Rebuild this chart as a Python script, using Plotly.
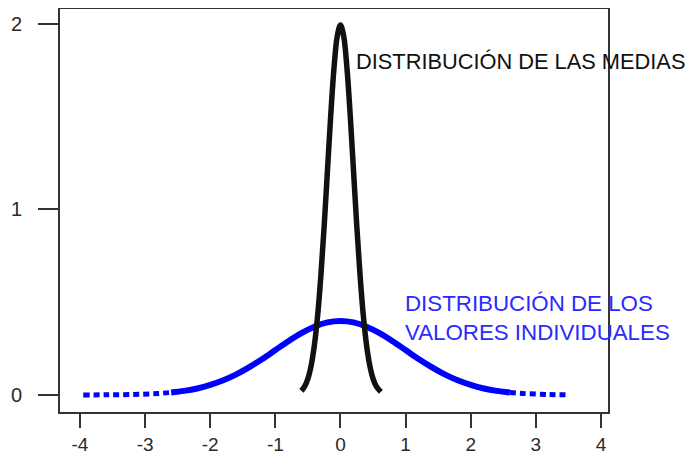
import plotly.graph_objects as go

# Distribution of the means
medias_x = [-0.60, -0.55, -0.50, -0.45, -0.40, -0.35, -0.30, -0.25, -0.20, -0.15, -0.10, -0.05,
            0.00, 0.05, 0.10, 0.15, 0.20, 0.25, 0.30, 0.35, 0.40, 0.45, 0.50, 0.55, 0.62]
medias_y = [0.022, 0.046, 0.088, 0.159, 0.270, 0.431, 0.648, 0.913, 1.210, 1.506, 1.760, 1.933,
            1.995, 1.933, 1.760, 1.506, 1.210, 0.913, 0.648, 0.431, 0.270, 0.159, 0.088, 0.046, 0.016]

# Distribution of individual values: central (solid) part
ind_x = [-2.6, -2.4, -2.2, -2.0, -1.8, -1.6, -1.4, -1.2, -1.0, -0.8, -0.6, -0.4, -0.2, 0.0,
         0.2, 0.4, 0.6, 0.8, 1.0, 1.2, 1.4, 1.6, 1.8, 2.0, 2.2, 2.4, 2.6]
ind_y = [0.0136, 0.022, 0.035, 0.054, 0.079, 0.111, 0.150, 0.194, 0.242, 0.290, 0.333, 0.368, 0.391, 0.399,
         0.391, 0.368, 0.333, 0.290, 0.242, 0.194, 0.150, 0.111, 0.079, 0.054, 0.035, 0.022, 0.0136]
# tails (sparse, dashed-looking)
tail_left_x = [-3.95, -3.6, -3.2, -2.8, -2.6]
tail_left_y = [0.0002, 0.0006, 0.0024, 0.0079, 0.0136]
tail_right_x = [2.6, 2.8, 3.2, 3.5]
tail_right_y = [0.0136, 0.0079, 0.0024, 0.0009]

x_ticks = [-4, -3, -2, -1, 0, 1, 2, 3, 4]
y_ticks = [0, 1, 2]

label_medias = "DISTRIBUCIÓN DE LAS MEDIAS"
label_ind = "DISTRIBUCIÓN DE LOS<br>VALORES INDIVIDUALES"

FONT = "Liberation Sans, Arial, sans-serif"
BLUE = "#0000ff"

fig = go.Figure()
fig.add_trace(go.Scatter(x=tail_left_x, y=tail_left_y, mode="lines",
                         line=dict(color=BLUE, width=5, dash="6px,4px", shape="spline"),
                         showlegend=False, hoverinfo="skip"))
fig.add_trace(go.Scatter(x=tail_right_x, y=tail_right_y, mode="lines",
                         line=dict(color=BLUE, width=5, dash="6px,4px", shape="spline"),
                         showlegend=False, hoverinfo="skip"))
fig.add_trace(go.Scatter(x=ind_x, y=ind_y, mode="lines",
                         line=dict(color=BLUE, width=6, shape="spline"),
                         showlegend=False))
fig.add_trace(go.Scatter(x=medias_x, y=medias_y, mode="lines",
                         line=dict(color="#111111", width=5.5, shape="spline"),
                         showlegend=False))

fig.add_annotation(x=0.21, y=1.80, text=label_medias, showarrow=False,
                   xanchor="left", yanchor="middle",
                   font=dict(family=FONT, size=21.8, color="#111111"))
fig.add_annotation(x=0.955, y=0.414, text=label_ind, showarrow=False,
                   xanchor="left", yanchor="middle", align="left",
                   font=dict(family=FONT, size=22.3, color="#2a2aff"))

# the page body keeps its default 8px margin, so the figure is sized to fit inside it
fig.update_layout(
    width=690, height=447,
    margin=dict(l=52, r=90, t=1, b=43),
    paper_bgcolor="white", plot_bgcolor="white",
    font=dict(family=FONT, size=16, color="#222222"),
    showlegend=False,
)
fig.update_xaxes(range=[-4.307, 4.108], tickvals=x_ticks, ticktext=[str(v) for v in x_ticks],
                 tickfont=dict(family=FONT, size=19, color="#2a2a2a"), automargin=False,
                 showgrid=False, zeroline=False, showline=True, mirror=True,
                 linecolor="#333333", linewidth=2, ticks="outside", ticklen=14,
                 tickwidth=2, tickcolor="#333333", ticklabelstandoff=0)
fig.update_yaxes(range=[-0.092, 2.081], tickvals=y_ticks, ticktext=[str(v) for v in y_ticks],
                 tickfont=dict(family=FONT, size=20, color="#2a2a2a"), automargin=False,
                 showgrid=False, zeroline=False, showline=True, mirror=True,
                 linecolor="#333333", linewidth=2, ticks="outside", ticklen=20,
                 tickwidth=2, tickcolor="#333333", ticklabelstandoff=12)

fig.write_html("out.html")
